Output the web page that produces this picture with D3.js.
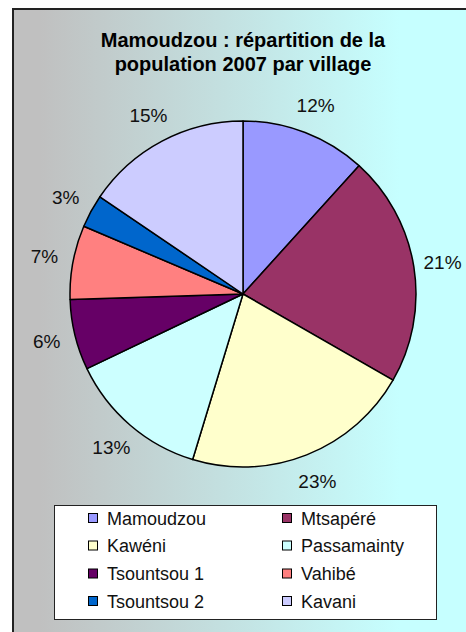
<!DOCTYPE html>
<html>
<head>
<meta charset="utf-8">
<script src="https://cdn.jsdelivr.net/npm/d3@7"></script>
<style>
  body { margin: 0; background: #fff; }
  svg { display: block; font-family: "Liberation Sans", Arial, sans-serif; }
</style>
</head>
<body>
<div id="chart"></div>
<script>
// villages, clockwise from 12 o'clock
var villages = ["Mamoudzou", "Mtsapéré", "Kawéni", "Passamainty", "Tsountsou 1", "Vahibé", "Tsountsou 2", "Kavani"];
// share of the pie (%)
var shares = [11.7, 21.6, 21.4, 13.2, 6.6, 6.9, 3.1, 15.5];
// percentage labels printed next to each slice
var shareLabels = ["12%", "21%", "23%", "13%", "6%", "7%", "3%", "15%"];
var colors = ["#9999FF", "#993366", "#FFFFCC", "#CCFFFF", "#660066", "#FF8080", "#0066CC", "#CCCCFF"];
var titleLines = ["Mamoudzou : répartition de la", "population 2007 par village"];

var W = 466, H = 632;
var cx = 243, cy = 294, R = 173;

var svg = d3.select("#chart").append("svg")
  .attr("width", W)
  .attr("height", H);

//background gradient gray -> light turquoise
var grad = svg.append("defs").append("linearGradient")
  .attr("id", "bg")
  .attr("gradientUnits", "userSpaceOnUse")
  .attr("x1", 40).attr("y1", 0)
  .attr("x2", 400).attr("y2", 0);
grad.append("stop").attr("offset", "0%").attr("stop-color", "#C0C0C0");
grad.append("stop").attr("offset", "100%").attr("stop-color", "#C6FFFF");

svg.append("rect")
  .attr("x", 13).attr("y", 9)
  .attr("width", W + 10).attr("height", H + 10)
  .attr("fill", "url(#bg)")
  .attr("stroke", "#222")
  .attr("stroke-width", 2);

//title
svg.append("text")
  .attr("text-anchor", "middle")
  .attr("font-size", 20)
  .attr("font-weight", "bold")
  .attr("fill", "#000")
  .selectAll("tspan")
  .data(titleLines)
  .join("tspan")
    .attr("x", cx)
    .attr("y", function(d, i){ return 47 + i * 24; })
    .text(function(d){ return d; });

//pie
var pie = d3.pie().sort(null).value(function(d){ return d; });
var arc = d3.arc().innerRadius(0).outerRadius(R);
var labelArc = d3.arc().innerRadius(202).outerRadius(202);
var arcs = pie(shares);

var g = svg.append("g").attr("transform", "translate(" + cx + "," + cy + ")");
g.selectAll("path")
  .data(arcs)
  .join("path")
    .attr("d", arc)
    .attr("fill", function(d, i){ return colors[i]; })
    .attr("stroke", "#000")
    .attr("stroke-width", 1.5)
    .attr("stroke-linejoin", "round");

g.selectAll("text.pct")
  .data(arcs)
  .join("text")
    .attr("class", "pct")
    .attr("transform", function(d){ return "translate(" + labelArc.centroid(d) + ")"; })
    .attr("text-anchor", "middle")
    .attr("dy", "0.35em")
    .attr("font-size", 19)
    .attr("fill", "#111")
    .text(function(d, i){ return shareLabels[i]; });

//legend
var legend = svg.append("g");
legend.append("rect")
  .attr("x", 54.5).attr("y", 505.5)
  .attr("width", 382).attr("height", 114)
  .attr("fill", "#fff")
  .attr("stroke", "#222")
  .attr("stroke-width", 1);

var colX = [88, 282];
var rowY = [518, 545.5, 573.5, 601];
var items = legend.selectAll("g.item")
  .data(villages)
  .join("g")
    .attr("class", "item")
    .attr("transform", function(d, i){ return "translate(" + colX[i % 2] + "," + rowY[Math.floor(i / 2)] + ")"; });
items.append("rect")
  .attr("x", 0.5).attr("y", -4.5)
  .attr("width", 9).attr("height", 9)
  .attr("fill", function(d, i){ return colors[i]; })
  .attr("stroke", "#000")
  .attr("stroke-width", 1);
items.append("text")
  .attr("x", 19)
  .attr("y", 6.5)
  .attr("font-size", 18)
  .attr("fill", "#111")
  .text(function(d){ return d; });
</script>
</body>
</html>
